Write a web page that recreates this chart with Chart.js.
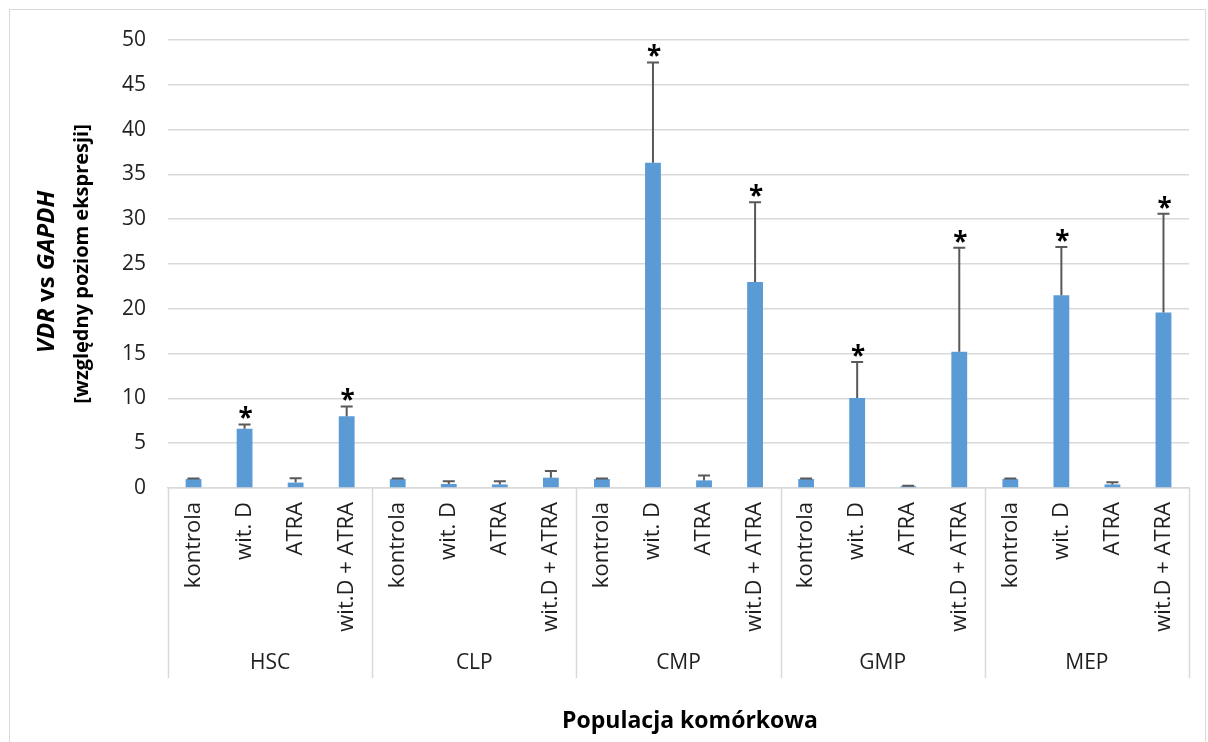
<!DOCTYPE html>
<html lang="pl">
<head>
<meta charset="utf-8">
<title>VDR vs GAPDH</title>
<script src="https://cdn.jsdelivr.net/npm/chart.js@4.4.1/dist/chart.umd.min.js"></script>
<style>
  html, body { margin: 0; padding: 0; background: #ffffff; }
  #wrap { position: relative; width: 1208px; height: 742px; }
  canvas { display: block; }
</style>
</head>
<body>
<div id="wrap"><canvas id="chart" width="1208" height="742"></canvas></div>
<script>
// Cell populations and treatments
const groups = ['HSC', 'CLP', 'CMP', 'GMP', 'MEP'];
const treatments = ['kontrola', 'wit. D', 'ATRA', 'wit.D + ATRA'];

// Relative VDR expression (vs GAPDH), one array per population
const hscValues = [1.0, 6.6, 0.6, 8.0];
const clpValues = [1.0, 0.45, 0.4, 1.15];
const cmpValues = [1.0, 36.3, 0.85, 23.0];
const gmpValues = [1.0, 10.05, 0.2, 15.2];
const mepValues = [1.0, 21.5, 0.4, 19.6];

// Upper error (SD) per bar
const hscErrors = [0.05, 0.5, 0.5, 1.1];
const clpErrors = [0.05, 0.3, 0.35, 0.75];
const cmpErrors = [0.05, 11.2, 0.55, 8.9];
const gmpErrors = [0.05, 4.0, 0.05, 11.6];
const mepErrors = [0.05, 5.4, 0.25, 11.0];

// Significance markers (*)
const hscSignif = [false, true, false, true];
const clpSignif = [false, false, false, false];
const cmpSignif = [false, true, false, true];
const gmpSignif = [false, true, false, true];
const mepSignif = [false, true, false, true];

// Y axis ticks
const yTicks = [0, 5, 10, 15, 20, 25, 30, 35, 40, 45, 50];

const labels = [];
groups.forEach(() => treatments.forEach(t => labels.push(t)));
const values = [].concat(hscValues, clpValues, cmpValues, gmpValues, mepValues);
const errors = [].concat(hscErrors, clpErrors, cmpErrors, gmpErrors, mepErrors);
const signif = [].concat(hscSignif, clpSignif, cmpSignif, gmpSignif, mepSignif);

const FONT = '"Open Sans", "Liberation Sans", sans-serif';
const TEXT = '#1f1f1f';
const GRID = '#d9d9d9';

// Frame around the whole chart
const framePlugin = {
  id: 'frame',
  beforeDraw(chart) {
    const ctx = chart.ctx;
    ctx.save();
    ctx.fillStyle = '#ffffff';
    ctx.fillRect(0, 0, chart.width, chart.height);
    ctx.strokeStyle = GRID;
    ctx.lineWidth = 1;
    ctx.strokeRect(9.5, 9.5, chart.width - 12, chart.height + 20);
    ctx.restore();
  }
};

// Error bars and asterisks above bars
const errorPlugin = {
  id: 'errorBars',
  afterDatasetsDraw(chart) {
    const ctx = chart.ctx;
    const meta = chart.getDatasetMeta(0);
    const y = chart.scales.y;
    ctx.save();
    meta.data.forEach((bar, i) => {
      const top = y.getPixelForValue(values[i]);
      const cap = y.getPixelForValue(values[i] + errors[i]);
      ctx.strokeStyle = '#595959';
      ctx.lineWidth = 2;
      ctx.beginPath();
      ctx.moveTo(bar.x, top);
      ctx.lineTo(bar.x, cap);
      ctx.moveTo(bar.x - 6, cap);
      ctx.lineTo(bar.x + 6, cap);
      ctx.stroke();
      if (signif[i]) {
        ctx.fillStyle = '#000000';
        ctx.font = 'bold 26px ' + FONT;
        ctx.textAlign = 'center';
        ctx.textBaseline = 'alphabetic';
        ctx.fillText('*', bar.x + 1, cap + 3);
      }
    });
    ctx.restore();
  }
};

// Population separators, population names, axis titles
const groupPlugin = {
  id: 'groupAxis',
  afterDraw(chart) {
    const ctx = chart.ctx;
    const x = chart.scales.x;
    const area = chart.chartArea;
    const n = treatments.length;
    ctx.save();
    ctx.strokeStyle = GRID;
    ctx.lineWidth = 1.5;
    const edges = [];
    for (let g = 0; g <= groups.length; g++) {
      let px;
      if (g === 0) px = area.left;
      else if (g === groups.length) px = area.right;
      else px = (x.getPixelForValue(g * n - 1) + x.getPixelForValue(g * n)) / 2;
      edges.push(px);
      ctx.beginPath();
      ctx.moveTo(Math.round(px) + 0.5, area.bottom);
      ctx.lineTo(Math.round(px) + 0.5, area.bottom + 190);
      ctx.stroke();
    }
    ctx.fillStyle = TEXT;
    ctx.font = '21px ' + FONT;
    ctx.textAlign = 'center';
    ctx.textBaseline = 'middle';
    groups.forEach((name, g) => {
      ctx.fillText(name, (edges[g] + edges[g + 1]) / 2, area.bottom + 175);
    });

    // x-axis title
    ctx.fillStyle = '#000000';
    ctx.font = 'bold 23px ' + FONT;
    ctx.fillText('Populacja komórkowa', 690, 721);

    // y-axis title: two rotated lines, gene names in italics
    const cy = (area.top + area.bottom) / 2;
    ctx.translate(0, cy);
    ctx.rotate(-Math.PI / 2);
    ctx.textBaseline = 'middle';
    const parts = [
      { t: 'VDR', f: 'italic bold 24px ' + FONT },
      { t: ' vs ', f: 'bold 24px ' + FONT },
      { t: 'GAPDH', f: 'italic bold 24px ' + FONT }
    ];
    let total = 0;
    parts.forEach(p => { ctx.font = p.f; p.w = ctx.measureText(p.t).width; total += p.w; });
    let sx = -total / 2 - 8;
    ctx.textAlign = 'left';
    parts.forEach(p => { ctx.font = p.f; ctx.fillText(p.t, sx, 47); sx += p.w; });
    ctx.font = 'bold 20px ' + FONT;
    ctx.textAlign = 'center';
    ctx.fillText('[względny poziom ekspresji]', 0, 82);
    ctx.restore();
  }
};

new Chart(document.getElementById('chart'), {
  type: 'bar',
  data: {
    labels: labels,
    datasets: [{
      data: values,
      backgroundColor: '#5b9bd5',
      borderColor: '#5b9bd5',
      borderWidth: 0,
      categoryPercentage: 1.0,
      barPercentage: 0.31
    }]
  },
  options: {
    responsive: false,
    animation: false,
    events: [],
    layout: { padding: { left: 0, right: 19, top: 40, bottom: 0 } },
    plugins: { legend: { display: false }, tooltip: { enabled: false } },
    scales: {
      x: {
        grid: { display: false, drawTicks: false },
        border: { display: true, color: GRID, width: 1.5 },
        ticks: {
          autoSkip: false,
          minRotation: 90,
          maxRotation: 90,
          padding: 14,
          color: TEXT,
          font: { family: FONT, size: 22 }
        },
        afterFit(scale) { scale.height = 254; }
      },
      y: {
        min: 0,
        max: 50,
        afterBuildTicks(scale) { scale.ticks = yTicks.map(v => ({ value: v })); },
        grid: { color: GRID, lineWidth: 1.5, drawTicks: false },
        border: { display: false },
        ticks: {
          padding: 22,
          color: TEXT,
          font: { family: FONT, size: 21 }
        },
        afterFit(scale) { scale.width = 168; }
      }
    }
  },
  plugins: [framePlugin, errorPlugin, groupPlugin]
});
</script>
</body>
</html>
